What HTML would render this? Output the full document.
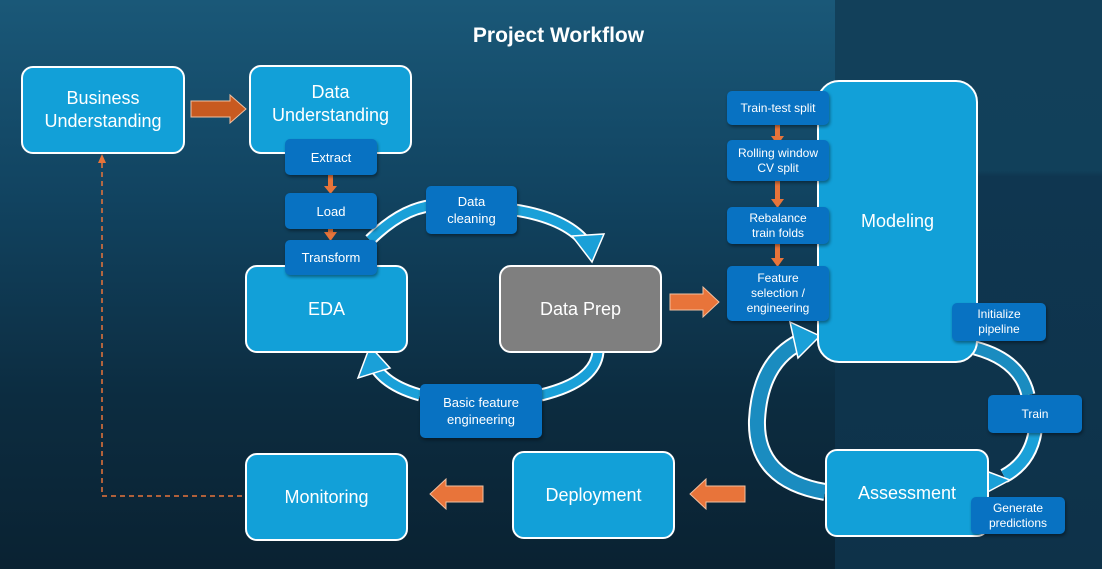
<!DOCTYPE html>
<html><head><meta charset="utf-8"><style>
*{margin:0;padding:0;box-sizing:border-box}
body{width:1102px;height:569px;overflow:hidden;position:relative;font-family:"Liberation Sans",Arial,sans-serif;
background:linear-gradient(180deg,#1a5878 0%,#114360 35%,#0c2c40 70%,#0a2232 100%)}
#right{position:absolute;left:835px;top:0;width:267px;height:569px;background:linear-gradient(180deg,#12405a 0%,#11405a 30%,#0f3650 31%,#0e3249 100%)}
.big{position:absolute;background:#12a0d8;border:2px solid #fff;border-radius:12px;color:#fff;display:flex;align-items:center;justify-content:center;text-align:center;font-size:18px;line-height:23px}
.sm{position:absolute;background:#0872c2;border-radius:5px;color:#fff;display:flex;align-items:center;justify-content:center;text-align:center;font-size:12px;line-height:15px;box-shadow:1px 2px 3px rgba(0,0,0,.4)}
h1{position:absolute;left:0;width:1117px;top:24px;text-align:center;color:#fff;font-size:21px;font-weight:bold}
svg{position:absolute;left:0;top:0}
</style></head><body>
<div id="right"></div>
<h1>Project Workflow</h1>
<svg width="1102" height="569">
<g fill="none" stroke-linecap="butt">
<path d="M370 240 Q405 205 440 205" stroke="#fff" stroke-width="13"/>
<path d="M370 240 Q405 205 440 205" stroke="#1aa0d8" stroke-width="9"/>
<path d="M515 210 Q565 218 585 242" stroke="#fff" stroke-width="13"/>
<path d="M515 210 Q565 218 585 242" stroke="#1aa0d8" stroke-width="9"/>
<path d="M598 352 Q595 382 541 395" stroke="#fff" stroke-width="13"/>
<path d="M598 352 Q595 382 541 395" stroke="#1aa0d8" stroke-width="9"/>
<path d="M420 395 Q388 386 376 368" stroke="#fff" stroke-width="13"/>
<path d="M420 395 Q388 386 376 368" stroke="#1aa0d8" stroke-width="9"/>
<path d="M825 492 Q755 480 757 420 Q760 362 800 342" stroke="#fff" stroke-width="18"/>
<path d="M825 492 Q755 480 757 420 Q760 362 800 342" stroke="#1a8cc0" stroke-width="14"/>
<path d="M975 348 Q1020 360 1028 395" stroke="#fff" stroke-width="15"/>
<path d="M975 348 Q1020 360 1028 395" stroke="#1a8cc0" stroke-width="11"/>
<path d="M1035 432 Q1030 462 1004 476" stroke="#fff" stroke-width="15"/>
<path d="M1035 432 Q1030 462 1004 476" stroke="#1aa0d8" stroke-width="11"/>
</g>
<g fill="#1aa0d8" stroke="#fff" stroke-width="1.5">
<polygon points="572,236 604,234 592,262"/>
<polygon points="358,378 370,346 390,368"/>
<polygon points="790,322 820,336 798,358"/>
<polygon points="978,468 1010,480 982,495"/>
</g>
<path d="M102 163 V496 H245" fill="none" stroke="#e8743a" stroke-width="1.5" stroke-dasharray="5,4"/>
<polygon points="98,163 106,163 102,154" fill="#e8743a"/>
<g fill="#e8743a" stroke="#f2c0a0" stroke-width="1">
<polygon points="191,101 230,101 230,95 246,109 230,123 230,117 191,117" fill="#c85a20"/>
<polygon points="670,294 703,294 703,287 719,302 703,317 703,310 670,310"/>
<polygon points="745,486 706,486 706,479 690,494 706,509 706,502 745,502"/>
<polygon points="483,486 446,486 446,479 430,494 446,509 446,502 483,502"/>
</g>
<g fill="#e8743a">
<polygon points="328,174 333,174 333,186 337,186 330.5,194 324,186 328,186"/>
<polygon points="328,228 333,228 333,232 337,232 330.5,241 324,232 328,232"/>
<polygon points="775,124 780,124 780,136 784,136 777.5,145 771,136 775,136"/>
<polygon points="775,180 780,180 780,199 784,199 777.5,208 771,199 775,199"/>
<polygon points="775,243 780,243 780,258 784,258 777.5,267 771,258 775,258"/>
</g>
</svg>
<div class="big" style="left:21px;top:66px;width:164px;height:88px">Business<br>Understanding</div>
<div class="big" style="left:249px;top:65px;width:163px;height:89px;padding-bottom:12px">Data<br>Understanding</div>
<div class="big" style="left:245px;top:265px;width:163px;height:88px">EDA</div>
<div class="big" style="left:499px;top:265px;width:163px;height:88px;background:#7f7f7f">Data Prep</div>
<div class="big" style="left:817px;top:80px;width:161px;height:283px;border-radius:22px;align-items:flex-start;padding-top:128px">Modeling</div>
<div class="big" style="left:245px;top:453px;width:163px;height:88px">Monitoring</div>
<div class="big" style="left:512px;top:451px;width:163px;height:88px">Deployment</div>
<div class="big" style="left:825px;top:449px;width:164px;height:88px">Assessment</div>
<div class="sm" style="left:285px;top:139px;width:92px;height:36px;font-size:13px">Extract</div>
<div class="sm" style="left:285px;top:193px;width:92px;height:36px;font-size:13px">Load</div>
<div class="sm" style="left:285px;top:240px;width:92px;height:35px;font-size:13px">Transform</div>
<div class="sm" style="left:426px;top:186px;width:91px;height:48px;font-size:13px;line-height:17px">Data<br>cleaning</div>
<div class="sm" style="left:420px;top:384px;width:122px;height:54px;font-size:13px;line-height:17px">Basic feature<br>engineering</div>
<div class="sm" style="left:727px;top:91px;width:102px;height:34px">Train-test split</div>
<div class="sm" style="left:727px;top:140px;width:102px;height:41px">Rolling window<br>CV split</div>
<div class="sm" style="left:727px;top:207px;width:102px;height:37px">Rebalance<br>train folds</div>
<div class="sm" style="left:727px;top:266px;width:102px;height:55px">Feature<br>selection /<br>engineering</div>
<div class="sm" style="left:952px;top:303px;width:94px;height:38px">Initialize<br>pipeline</div>
<div class="sm" style="left:988px;top:395px;width:94px;height:38px">Train</div>
<div class="sm" style="left:971px;top:497px;width:94px;height:37px">Generate<br>predictions</div>
</body></html>
